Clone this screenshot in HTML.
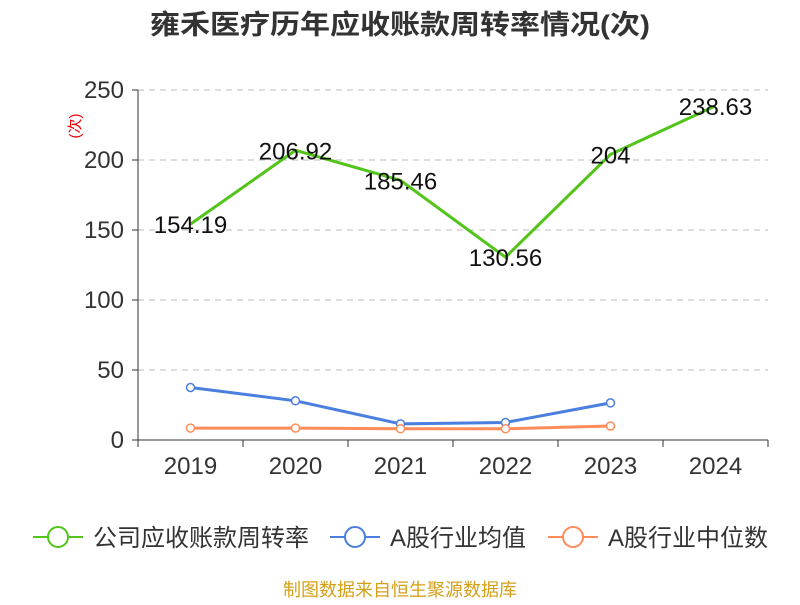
<!DOCTYPE html>
<html><head><meta charset="utf-8"><style>
body{margin:0;background:#fff;width:800px;height:600px;overflow:hidden;font-family:"Liberation Sans","Noto Sans CJK SC",sans-serif}
</style></head><body>
<svg id="c" width="800" height="600" xmlns="http://www.w3.org/2000/svg" style="font-family:'Liberation Sans','Noto Sans CJK SC',sans-serif">
<text x="400" y="34" text-anchor="middle" font-size="27" font-weight="bold" fill="#333" textLength="500" lengthAdjust="spacingAndGlyphs">雍禾医疗历年应收账款周转率情况(次)</text>
<text transform="translate(80,126) rotate(-90)" text-anchor="middle" font-size="15" fill="#e00">(次)</text>
<g id="grid"></g><g id="axes"></g><g id="series"></g>
<g>
<g><line x1="33" y1="537" x2="83" y2="537" stroke="#52c41a" stroke-width="2"/><circle cx="58" cy="537" r="10" fill="#fff" stroke="#52c41a" stroke-width="2"/><text x="93" y="546" font-size="24" fill="#333">公司应收账款周转率</text></g>
<g><line x1="330" y1="537" x2="380" y2="537" stroke="#4a7fe0" stroke-width="2"/><circle cx="355" cy="537" r="10" fill="#fff" stroke="#4a7fe0" stroke-width="2"/><text x="390" y="546" font-size="24" fill="#333">A股行业均值</text></g>
<g><line x1="548" y1="537" x2="598" y2="537" stroke="#ff8c5a" stroke-width="2"/><circle cx="573" cy="537" r="10" fill="#fff" stroke="#ff8c5a" stroke-width="2"/><text x="608" y="546" font-size="24" fill="#333">A股行业中位数</text></g>
</g>
<text x="400" y="596" text-anchor="middle" font-size="18" fill="#d4a017">制图数据来自恒生聚源数据库</text>
</svg>
<script>
const categories=["2019","2020","2021","2022","2023","2024"];
const turnover=[154.19,206.92,185.46,130.56,204,238.63];
const turnoverLabels=["154.19","206.92","185.46","130.56","204","238.63"];
const industryMean=[37.5,28,11.5,12.5,26.5];
const industryMedian=[8.5,8.5,8,8,10];
const yTicks=[0,50,100,150,200,250];
const NS="http://www.w3.org/2000/svg";
const x0=138,x1=768,yB=440,yT=90,yMax=250;
const bw=(x1-x0)/categories.length;
const X=i=>x0+bw*(i+0.5);
const Y=v=>yB-(v/yMax)*(yB-yT);
function mk(tag,attrs,parent){const e=document.createElementNS(NS,tag);for(const k in attrs)e.setAttribute(k,attrs[k]);parent.appendChild(e);return e;}
const grid=document.getElementById('grid'),axes=document.getElementById('axes'),ser=document.getElementById('series');
yTicks.forEach(t=>{
  if(t>0){const l=mk('line',{x1:x0,x2:x1,y1:Y(t),y2:Y(t),stroke:'#bbb','stroke-dasharray':'6,5'},grid);
  
  }
  const tx=mk('text',{x:x0-14,y:Y(t)+8,'text-anchor':'end','font-size':'24',fill:'#333'},axes);tx.textContent=t;
  
  
  const tk=mk('line',{x1:x0-6,x2:x0,y1:Y(t),y2:Y(t),stroke:'#333'},axes);
  
  
});
const ya=mk('line',{x1:x0,x2:x0,y1:yT,y2:yB,stroke:'#333'},axes);


const xa=mk('line',{x1:x0,x2:x1,y1:yB,y2:yB,stroke:'#333'},axes);


for(let i=0;i<=categories.length;i++){const t=mk('line',{x1:x0+bw*i,x2:x0+bw*i,y1:yB,y2:yB+7,stroke:'#333'},axes);

}
categories.forEach((c,i)=>{const t=mk('text',{x:X(i),y:474,'text-anchor':'middle','font-size':'24',fill:'#333'},axes);t.textContent=c;

});
function line(vals,color,name,markers){
  const p=mk('polyline',{points:vals.map((v,i)=>X(i)+','+Y(v)).join(' '),fill:'none',stroke:color,'stroke-width':'3'},ser);
  
  
  if(markers)vals.forEach((v,i)=>{const c=mk('circle',{cx:X(i),cy:Y(v),r:4,fill:'#fff',stroke:color,'stroke-width':'1.5'},ser);
  
  });
}
line(turnover,'#52c41a','turnover',false);
line(industryMean,'#4a7fe0','industry-mean',true);
line(industryMedian,'#ff8c5a','industry-median',true);
turnover.forEach((v,i)=>{const t=mk('text',{x:X(i),y:Y(v)+9,'text-anchor':'middle','font-size':'24',fill:'#111'},ser);t.textContent=turnoverLabels[i];

});
</script>
</body></html>
